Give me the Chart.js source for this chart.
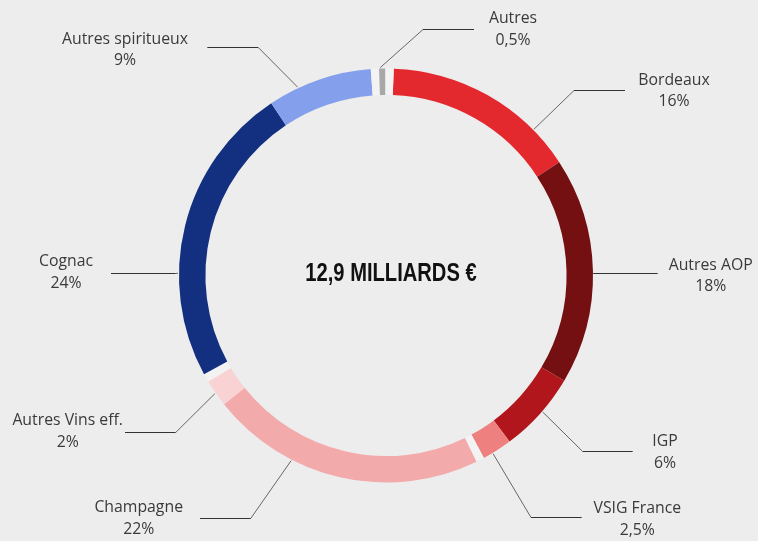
<!DOCTYPE html>
<html>
<head>
<meta charset="utf-8">
<script src="https://cdn.jsdelivr.net/npm/chart.js@4/dist/chart.umd.min.js"></script>
<style>
  html, body { margin: 0; padding: 0; background: #ededed; }
  #wrap { width: 758px; height: 541px; position: relative; }
</style>
</head>
<body>
<div id="wrap"><canvas id="c" width="758" height="541"></canvas></div>
<script>
// ---- data ----
const categories = ['Bordeaux', 'Autres AOP', 'IGP', 'VSIG France', 'Champagne', 'Autres Vins eff.', 'Cognac', 'Autres spiritueux', 'Autres'];
const shares = [15.6, 18.2, 6.5, 2.4, 22.1, 2.2, 24.2, 8.4, 0.5];
const shareLabels = ['16%', '18%', '6%', '2,5%', '22%', '2%', '24%', '9%', '0,5%'];
const groups = ['vins', 'vins', 'vins', 'vins', 'eff', 'eff', 'spir', 'spir', 'autres'];
const totalLabel = '12,9 MILLIARDS €';

// ---- style ----
const colors = ['#e3292e', '#751012', '#b0161b', '#ef8080', '#f3aaab', '#f9d3d3', '#132f80', '#84a0ec', '#a8a8a8'];
const GAP = 0.66;            // separator slice between groups
const GAP_COLOR = '#f3f3f3';

// label layout (relative to donut centre): anchor fraction along the arc, elbow, line end x, text centre
const labelLayout = [
  { f: 0.79, elbow: [188, -185.2], endX: 239,    text: [288, -195.5] },
  { f: 0.51, elbow: [207.3, -2.2], endX: 271.7,  text: [324.7, -10.5] },
  { f: 0.46, elbow: [196.7, 175.5], endX: 246.7, text: [279, 166.2] },
  { f: 0.67, elbow: [145, 241.2], endX: 195.7,   text: [251.3, 232.8] },
  { f: 0.685, elbow: [-135.3, 242.2], endX: -186, text: [-247.3, 232.2] },
  { f: 0.5, elbow: [-210.3, 156.8], endX: -261,  text: [-318.3, 145.2] },
  { f: 0.343, elbow: [-210.3, -2.2], endX: -275, text: [-320, -13.8] },
  { f: 0.29, elbow: [-127.7, -228.2], endX: -178.7, text: [-261, -236.5] },
  { f: 0.19, elbow: [37, -246.2], endX: 88,      text: [127, -257.2] }
];

// build the dataset with separators between groups
const chartLabels = [], chartData = [], chartColors = [], catIndex = [];
categories.forEach((c, i) => {
  if (i > 0 && groups[i] !== groups[i - 1]) {
    chartLabels.push(''); chartData.push(GAP); chartColors.push(GAP_COLOR);
  }
  catIndex.push(chartData.length);
  chartLabels.push(c); chartData.push(shares[i]); chartColors.push(colors[i]);
});
chartLabels.push(''); chartData.push(GAP); chartColors.push(GAP_COLOR);

const labelPlugin = {
  id: 'labels',
  afterDraw(chart) {
    const ctx = chart.ctx;
    const meta = chart.getDatasetMeta(0);
    const first = meta.data[0];
    const cx = first.x, cy = first.y;
    ctx.save();
    categories.forEach((name, i) => {
      const arc = meta.data[catIndex[i]];
      const L = labelLayout[i];
      const a = arc.startAngle + L.f * (arc.endAngle - arc.startAngle);
      const r = arc.outerRadius + 1;
      const ax = cx + r * Math.cos(a), ay = cy + r * Math.sin(a);
      const ex = cx + L.elbow[0], ey = Math.round(cy + L.elbow[1]) + 0.5;
      const hx = cx + L.endX;
      ctx.lineWidth = 1;
      ctx.strokeStyle = '#666';
      ctx.beginPath(); ctx.moveTo(ax, ay); ctx.lineTo(ex, ey); ctx.stroke();
      ctx.strokeStyle = '#333';
      ctx.beginPath(); ctx.moveTo(ex, ey); ctx.lineTo(hx, ey); ctx.stroke();
      ctx.fillStyle = '#3a3a3a';
      ctx.font = '15.8px "Open Sans", sans-serif';
      ctx.textAlign = 'center';
      ctx.textBaseline = 'middle';
      ctx.fillText(name, cx + L.text[0], cy + L.text[1]);
      ctx.fillText(shareLabels[i], cx + L.text[0], cy + L.text[1] + 21.7);
    });
    // centre total, condensed look
    ctx.translate(cx + 5, cy - 1.5);
    ctx.scale(0.79, 1);
    ctx.fillStyle = '#111';
    ctx.font = 'bold 25.5px "Liberation Sans", Arial, sans-serif';
    ctx.textAlign = 'center';
    ctx.textBaseline = 'middle';
    ctx.fillText(totalLabel, 0, 0);
    ctx.restore();
  }
};

new Chart(document.getElementById('c'), {
  type: 'doughnut',
  data: {
    labels: chartLabels,
    datasets: [{
      data: chartData,
      backgroundColor: chartColors,
      borderWidth: 0,
      hoverOffset: 0
    }]
  },
  options: {
    responsive: false,
    animation: false,
    rotation: 2.15,
    radius: 207,
    cutout: 181,
    layout: { padding: { left: 178, right: 164, top: 68, bottom: 58 } },
    plugins: {
      legend: { display: false },
      tooltip: { enabled: false }
    },
    events: []
  },
  plugins: [labelPlugin]
});
</script>
</body>
</html>
